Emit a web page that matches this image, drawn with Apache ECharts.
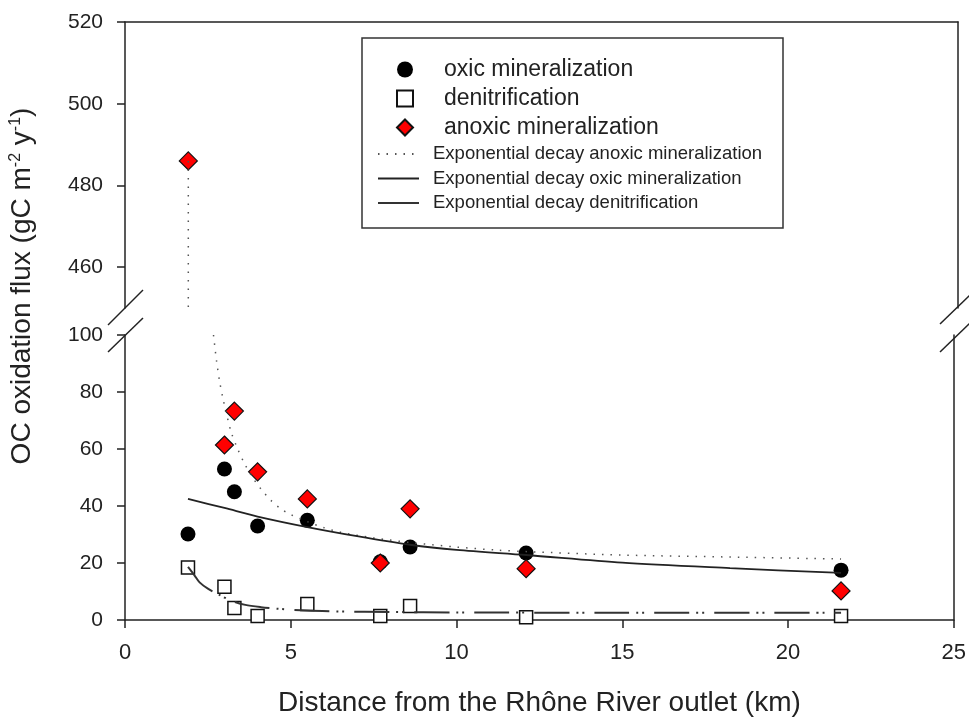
<!DOCTYPE html>
<html lang="en">
<head>
    <meta charset="UTF-8">
    <title>OC oxidation flux vs distance</title>
    <script src="https://cdn.jsdelivr.net/npm/echarts@6/dist/echarts.min.js"></script>
    <style>
        html, body { margin: 0; padding: 0; background: #fff; }
        #mychart { width: 969px; height: 718px; }
    </style>
</head>
<body>
    <div id="mychart"></div>
<script>
    // distances of the stations (km)
    var stations = [1.9, 3.0, 3.3, 4.0, 5.5, 7.7, 8.6, 12.1, 21.6];
    // measured fluxes (gC m-2 y-1)
    var oxic = [30.2, 53, 45, 33, 35, 20.4, 25.6, 23.5, 17.5];
    var denit = [18.4, 11.7, 4.2, 1.4, 5.6, 1.4, 4.9, 1.0, 1.4];
    var anoxic = [486, 61.4, 73.3, 52, 42.5, 20, 39, 18, 10.2];

    // fitted curves
    var fitOxic = [[1.9, 42.5], [3, 39.3], [4, 36.3], [5.5, 32.6], [7, 29.4], [8.6, 26.4], [10, 24.6],
        [12.1, 22.8], [15, 20.1], [18.25, 18.2], [21.6, 16.5]];
    var fitAnoxicTop = [[1.9, 486], [1.9, 450]];
    var fitAnoxic = [[2.67, 100], [2.76, 91], [2.85, 84], [2.95, 78], [3.05, 73], [3.2, 66], [3.4, 60],
        [3.6, 55], [3.85, 50], [4.1, 46], [4.4, 42], [4.7, 39], [5.0, 37], [5.5, 34.5], [6.0, 32.4],
        [6.5, 30.8], [7.5, 28.8], [8.6, 27.2], [10, 25.6], [11.25, 24.5], [12.1, 24], [15, 22.8],
        [18.25, 22.1], [21.6, 21.4]];
    var fitDenit = [[1.9, 18.6], [2.1, 15.6], [2.25, 13.2], [2.5, 11], [2.85, 8.8], [3.2, 6.8], [3.63, 5.3],
        [4.1, 4.5], [4.65, 3.9], [5.46, 3.3], [6.45, 3.0], [8, 2.8], [10, 2.65], [15, 2.55], [21.6, 2.55]];

    var topTicks = [460, 480, 500, 520];
    var font = 'Liberation Sans, Arial, sans-serif';
    var ink = '#222';

    function pairs(ys, keep) {
        var out = [];
        for (var i = 0; i < stations.length; i++) {
            if (keep(ys[i])) out.push([stations[i], ys[i]]);
        }
        return out;
    }

    var mychart = echarts.init(document.getElementById('mychart'));

    var axisLine = { show: true, onZero: false, lineStyle: { color: ink, width: 1.5 } };
    var tick = { show: true, inside: false, length: 8, lineStyle: { color: ink, width: 1.5 } };
    var noSplit = { show: false };

    mychart.setOption({
        animation: false,
        textStyle: { fontFamily: font },
        grid: [
            { left: 125, top: 22, width: 833, height: 286 },
            { left: 125, top: 335, width: 833, height: 285 }
        ],
        xAxis: [
            {
                gridIndex: 0, type: 'value', min: 0, max: 25, position: 'top',
                axisLine: axisLine, axisTick: { show: false }, axisLabel: { show: false }, splitLine: noSplit
            },
            {
                gridIndex: 1, type: 'value', min: 0, max: 25, interval: 5, position: 'bottom',
                axisLine: axisLine, axisTick: tick, splitLine: noSplit,
                axisLabel: { fontSize: 22, color: ink, margin: 22, fontFamily: font },
                name: 'Distance from the Rhône River outlet (km)',
                nameLocation: 'middle', nameGap: 69,
                nameTextStyle: { fontSize: 28, color: ink, fontFamily: font }
            }
        ],
        yAxis: [
            {
                gridIndex: 0, type: 'value', min: 450, max: 520, position: 'left',
                axisLine: axisLine, splitLine: noSplit,
                axisTick: Object.assign({ customValues: topTicks }, tick),
                axisLabel: { customValues: topTicks, fontSize: 21, color: ink, margin: 22, fontFamily: font }
            },
            {
                gridIndex: 0, type: 'value', min: 450, max: 520, position: 'right',
                axisLine: axisLine, axisTick: { show: false }, axisLabel: { show: false }, splitLine: noSplit
            },
            {
                gridIndex: 1, type: 'value', min: 0, max: 100, interval: 20, position: 'left',
                axisLine: axisLine, axisTick: tick, splitLine: noSplit,
                axisLabel: { fontSize: 21, color: ink, margin: 22, fontFamily: font }
            },
            {
                gridIndex: 1, type: 'value', min: 0, max: 100, position: 'right',
                axisLine: axisLine, axisTick: { show: false }, axisLabel: { show: false }, splitLine: noSplit
            }
        ],
        legend: [
            {
                data: ['oxic mineralization', 'denitrification', 'anoxic mineralization'],
                orient: 'vertical', left: 396, top: 58, padding: 0,
                itemWidth: 16, itemHeight: 16, itemGap: 6, selectedMode: false,
                textStyle: { fontSize: 23, lineHeight: 20, color: ink, padding: [0, 0, 0, 26], fontFamily: font }
            },
            {
                data: [
                    'Exponential decay anoxic mineralization',
                    'Exponential decay oxic mineralization',
                    { name: 'Exponential decay denitrification', lineStyle: { type: 'solid' } }
                ],
                orient: 'vertical', left: 377, top: 144, padding: 0,
                itemWidth: 41, itemHeight: 14, itemGap: 4.5, selectedMode: false,
                itemStyle: { opacity: 0, color: 'transparent', borderWidth: 0 },
                textStyle: { fontSize: 18.5, lineHeight: 20, color: ink, padding: [0, 0, 0, 9], fontFamily: font }
            }
        ],
        graphic: [
            // legend frame
            { type: 'rect', shape: { x: 362, y: 38, width: 421, height: 190 },
              style: { fill: 'none', stroke: '#333', lineWidth: 1.5 }, z: 1 },
            // axis breaks
            { type: 'line', shape: { x1: 108, y1: 325, x2: 143, y2: 290 }, style: { stroke: ink, lineWidth: 1.5 } },
            { type: 'line', shape: { x1: 108, y1: 352, x2: 143, y2: 318 }, style: { stroke: ink, lineWidth: 1.5 } },
            { type: 'line', shape: { x1: 940, y1: 324, x2: 970, y2: 295 }, style: { stroke: ink, lineWidth: 1.5 } },
            { type: 'line', shape: { x1: 940, y1: 352, x2: 970, y2: 323 }, style: { stroke: ink, lineWidth: 1.5 } },
            // y axis title with superscripts
            {
                type: 'text', x: 22, y: 286, rotation: Math.PI / 2,
                style: {
                    text: '{a|OC oxidation flux (gC m}{s|-2}{a| y}{s|-1}{a|)}',
                    align: 'center', verticalAlign: 'middle', fill: ink,
                    rich: {
                        a: { fontSize: 28, fontFamily: font, fill: ink },
                        s: { fontSize: 16, fontFamily: font, fill: ink, verticalAlign: 'top' }
                    }
                }
            }
        ],
        series: [
            {
                name: 'Exponential decay anoxic mineralization', type: 'line', xAxisIndex: 0, yAxisIndex: 0,
                data: fitAnoxicTop, symbol: 'none', silent: true,
                lineStyle: { color: '#555', width: 1.5, type: [1.5, 7] }
            },
            {
                name: 'Exponential decay anoxic mineralization', type: 'line', xAxisIndex: 1, yAxisIndex: 2,
                data: fitAnoxic, symbol: 'none', silent: true, smooth: 0.3,
                lineStyle: { color: '#555', width: 1.5, type: [1.5, 7] }
            },
            {
                name: 'Exponential decay oxic mineralization', type: 'line', xAxisIndex: 1, yAxisIndex: 2,
                data: fitOxic, symbol: 'none', silent: true, smooth: 0.3,
                lineStyle: { color: ink, width: 1.8, type: 'solid' }
            },
            {
                name: 'Exponential decay denitrification', type: 'line', xAxisIndex: 1, yAxisIndex: 2,
                data: fitDenit, symbol: 'none', silent: true, smooth: 0.3,
                lineStyle: { color: '#333', width: 2, type: [35, 7, 2, 4, 2, 10] }
            },
            {
                name: 'oxic mineralization', type: 'scatter', xAxisIndex: 1, yAxisIndex: 2,
                data: pairs(oxic, function () { return true; }),
                symbol: 'circle', symbolSize: 15,
                itemStyle: { color: '#000', opacity: 1 }
            },
            {
                name: 'denitrification', type: 'scatter', xAxisIndex: 1, yAxisIndex: 2,
                data: pairs(denit, function () { return true; }),
                symbol: 'rect', symbolSize: 13,
                itemStyle: { color: '#fff', borderColor: '#111', borderWidth: 1.5, opacity: 1 }
            },
            {
                name: 'anoxic mineralization', type: 'scatter', xAxisIndex: 0, yAxisIndex: 0,
                data: pairs(anoxic, function (v) { return v > 100; }),
                symbol: 'diamond', symbolSize: 18,
                itemStyle: { color: '#f00', borderColor: '#111', borderWidth: 1.2, opacity: 1 }
            },
            {
                name: 'anoxic mineralization', type: 'scatter', xAxisIndex: 1, yAxisIndex: 2,
                data: pairs(anoxic, function (v) { return v <= 100; }),
                symbol: 'diamond', symbolSize: 18,
                itemStyle: { color: '#f00', borderColor: '#111', borderWidth: 1.2, opacity: 1 }
            }
        ]
    });
</script>
</body>
</html>
